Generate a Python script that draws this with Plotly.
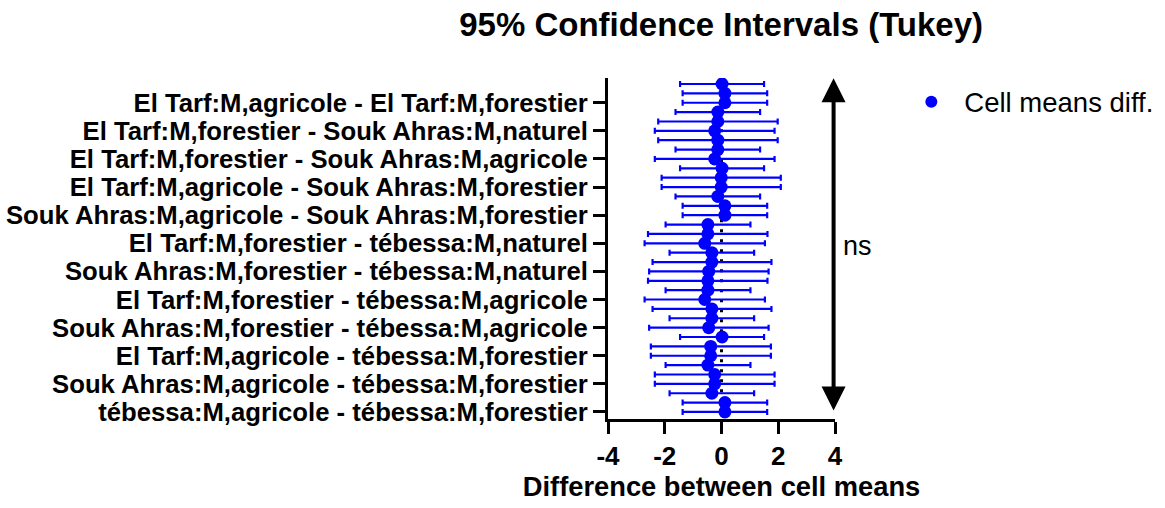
import plotly.graph_objects as go

# Tukey 95% CIs for the 36 pairwise differences between cell means (top to bottom)
row = list(range(1, 37))
diff_mean = [0.02, 0.12, 0.12, -0.13, -0.13, -0.24, -0.13, -0.13, -0.24,
             0.02, -0.01, -0.01, -0.13, 0.12, 0.12, -0.48, -0.48, -0.59,
             -0.34, -0.34, -0.45, -0.48, -0.48, -0.59, -0.34, -0.34, -0.45,
             0.02, -0.38, -0.38, -0.48, -0.24, -0.24, -0.34, 0.12, 0.12]
ci_lower = [-1.46, -1.37, -1.37, -1.62, -2.23, -2.35, -2.23, -1.62, -2.35,
            -1.46, -2.11, -2.11, -1.62, -1.37, -1.37, -1.97, -2.59, -2.71,
            -1.83, -2.43, -2.55, -2.59, -1.97, -2.71, -2.43, -1.83, -2.55,
            -1.46, -2.49, -2.49, -1.97, -2.35, -2.35, -1.83, -1.37, -1.37]
ci_upper = [1.50, 1.61, 1.61, 1.36, 1.98, 1.87, 1.98, 1.36, 1.87,
            1.50, 2.09, 2.09, 1.36, 1.61, 1.61, 1.02, 1.62, 1.53,
            1.15, 1.76, 1.66, 1.62, 1.02, 1.53, 1.76, 1.15, 1.66,
            1.50, 1.74, 1.74, 1.02, 1.87, 1.87, 1.15, 1.61, 1.61]

# every third comparison is labelled on the axis
label_rows = [3, 6, 9, 12, 15, 18, 21, 24, 27, 30, 33, 36]
label_text = [
    "El Tarf:M,agricole - El Tarf:M,forestier",
    "El Tarf:M,forestier - Souk Ahras:M,naturel",
    "El Tarf:M,forestier - Souk Ahras:M,agricole",
    "El Tarf:M,agricole - Souk Ahras:M,forestier",
    "Souk Ahras:M,agricole - Souk Ahras:M,forestier",
    "El Tarf:M,forestier - tébessa:M,naturel",
    "Souk Ahras:M,forestier - tébessa:M,naturel",
    "El Tarf:M,forestier - tébessa:M,agricole",
    "Souk Ahras:M,forestier - tébessa:M,agricole",
    "El Tarf:M,agricole - tébessa:M,forestier",
    "Souk Ahras:M,agricole - tébessa:M,forestier",
    "tébessa:M,agricole - tébessa:M,forestier",
]
x_ticks = [-4, -2, 0, 2, 4]

FONT = "Arial, Liberation Sans, sans-serif"
BLUE = "#0000FF"

err_plus = [u - m for u, m in zip(ci_upper, diff_mean)]
err_minus = [m - l for m, l in zip(diff_mean, ci_lower)]

fig = go.Figure()
fig.add_trace(go.Scatter(
    x=diff_mean, y=row, mode="markers", name="Cell means diff.",
    marker=dict(color=BLUE, size=13, line=dict(width=0)),
    error_x=dict(type="data", symmetric=False, array=err_plus,
                 arrayminus=err_minus, color=BLUE, thickness=2.2, width=3),
))

# dotted reference line at zero difference
fig.add_shape(type="line", xref="x", yref="paper", x0=0, x1=0, y0=0.02, y1=0.99,
              line=dict(color="black", width=3, dash="3px,7px"), layer="below")

# double-headed arrow with the significance verdict
fig.add_annotation(xref="x", yref="y", axref="x", ayref="y",
                   x=3.95, y=0.4, ax=3.95, ay=36.0, text="",
                   showarrow=True, arrowhead=2, arrowside="end+start",
                   arrowsize=1.2, arrowwidth=4, arrowcolor="black")
fig.add_annotation(xref="paper", yref="paper", x=1.097, y=0.507, text="ns",
                   xanchor="center", yanchor="middle", showarrow=False,
                   font=dict(family=FONT, size=27, color="black"))

fig.update_layout(
    width=1165, height=508,
    margin=dict(l=607.5, r=330, t=78, b=89, pad=0, autoexpand=False),
    paper_bgcolor="white", plot_bgcolor="white",
    title=dict(text="95% Confidence Intervals (Tukey)", x=0.619, xanchor="center",
               y=0.952, yanchor="middle",
               font=dict(family=FONT, size=33, color="black", weight="bold")),
    showlegend=True,
    legend=dict(x=1.279, y=0.93, xanchor="left", yanchor="middle",
                itemwidth=56, itemsizing="constant",
                font=dict(family=FONT, size=27.5, color="black"),
                bgcolor="rgba(0,0,0,0)"),
    xaxis=dict(range=[-4, 4], tickvals=x_ticks, ticktext=[str(v) for v in x_ticks],
               showgrid=False, zeroline=False, showline=True, linecolor="black",
               linewidth=3, ticks="outside", ticklen=12, tickwidth=3,
               tickcolor="black",
               tickfont=dict(family=FONT, size=26, color="black", weight="bold"),
               title=dict(text="Difference between cell means", standoff=6,
                          font=dict(family=FONT, size=27.3, color="black",
                                    weight="bold"))),
    yaxis=dict(range=[36.75, 0.36], tickvals=label_rows, ticktext=label_text,
               showgrid=False, zeroline=False, showline=True, linecolor="black",
               linewidth=3, ticks="outside", ticklen=12, tickwidth=3,
               tickcolor="black",
               tickfont=dict(family=FONT, size=25.7, color="black", weight="bold")),
)

fig.write_html("out.html")
